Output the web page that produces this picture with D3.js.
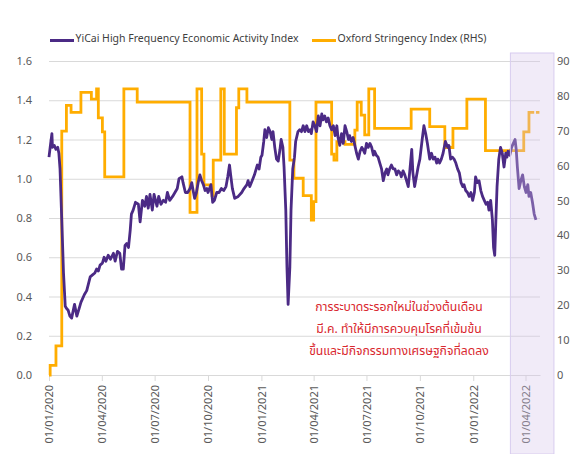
<!DOCTYPE html>
<html>
<head>
<meta charset="utf-8">
<script src="https://cdn.jsdelivr.net/npm/d3@7"></script>
<style>
	body { margin: 0; background: #fff; }
	svg { display: block; font-family: "Noto Sans", "Open Sans", sans-serif; }
</style>
</head>
<body>
<script>

// YiCai high frequency activity index (LHS)
var activity = [
	["2020-01-01",1.11],["2020-01-03",1.16],["2020-01-06",1.23],["2020-01-07",1.16],["2020-01-10",1.17],["2020-01-13",1.15],
	["2020-01-16",1.16],["2020-01-18",1.13],["2020-01-20",1.05],["2020-01-23",0.79],["2020-01-26",0.52],["2020-01-29",0.35],
	["2020-01-31",0.34],["2020-02-03",0.33],["2020-02-06",0.30],["2020-02-09",0.29],["2020-02-14",0.36],["2020-02-18",0.30],
	["2020-02-22",0.34],["2020-02-25",0.37],["2020-03-02",0.41],["2020-03-06",0.43],["2020-03-12",0.50],["2020-03-16",0.51],
	["2020-03-20",0.52],["2020-03-23",0.54],["2020-03-26",0.53],["2020-03-29",0.56],["2020-04-02",0.57],["2020-04-05",0.60],
	["2020-04-08",0.58],["2020-04-12",0.61],["2020-04-16",0.59],["2020-04-21",0.62],["2020-04-24",0.58],["2020-04-28",0.63],
	["2020-05-02",0.62],["2020-05-05",0.54],["2020-05-08",0.54],["2020-05-11",0.66],["2020-05-14",0.67],["2020-05-17",0.65],
	["2020-05-20",0.74],["2020-05-22",0.82],["2020-05-25",0.84],["2020-05-29",0.88],["2020-06-03",0.87],["2020-06-06",0.78],
	["2020-06-10",0.89],["2020-06-14",0.86],["2020-06-17",0.91],["2020-06-20",0.85],["2020-06-23",0.92],["2020-06-27",0.84],
	["2020-06-30",0.92],["2020-07-05",0.86],["2020-07-08",0.91],["2020-07-12",0.87],["2020-07-16",0.89],["2020-07-20",0.88],
	["2020-07-23",0.93],["2020-07-27",0.89],["2020-08-01",0.91],["2020-08-05",0.93],["2020-08-09",0.95],["2020-08-12",1.00],
	["2020-08-17",1.01],["2020-08-19",0.98],["2020-08-23",0.93],["2020-08-27",0.93],["2020-08-31",0.95],["2020-09-03",0.98],
	["2020-09-06",0.93],["2020-09-08",0.90],["2020-09-11",0.93],["2020-09-14",0.98],["2020-09-17",1.02],["2020-09-20",0.99],
	["2020-09-23",0.97],["2020-09-26",0.94],["2020-09-29",0.95],["2020-10-01",0.93],["2020-10-06",0.97],["2020-10-09",0.88],
	["2020-10-12",0.89],["2020-10-16",0.93],["2020-10-20",0.93],["2020-10-24",0.95],["2020-10-28",0.94],["2020-11-01",0.96],
	["2020-11-04",1.01],["2020-11-07",1.07],["2020-11-09",1.02],["2020-11-12",0.95],["2020-11-16",0.90],["2020-11-22",0.91],
	["2020-11-28",0.93],["2020-12-02",0.95],["2020-12-07",0.97],["2020-12-09",0.99],["2020-12-12",0.96],["2020-12-16",0.99],
	["2020-12-20",1.02],["2020-12-23",1.05],["2020-12-25",1.07],["2020-12-28",1.05],["2020-12-31",1.11],["2021-01-02",1.12],
	["2021-01-05",1.19],["2021-01-07",1.25],["2021-01-10",1.21],["2021-01-13",1.26],["2021-01-16",1.24],["2021-01-19",1.20],
	["2021-01-21",1.24],["2021-01-24",1.16],["2021-01-27",1.10],["2021-01-30",1.09],["2021-02-02",1.15],["2021-02-04",1.20],
	["2021-02-07",1.16],["2021-02-09",1.06],["2021-02-12",0.84],["2021-02-14",0.55],["2021-02-16",0.36],["2021-02-19",0.55],
	["2021-02-21",0.84],["2021-02-24",1.05],["2021-02-27",1.11],["2021-03-01",1.19],["2021-03-05",1.24],["2021-03-08",1.25],
	["2021-03-11",1.24],["2021-03-14",1.27],["2021-03-17",1.24],["2021-03-20",1.27],["2021-03-23",1.24],["2021-03-26",1.25],
	["2021-03-28",1.23],["2021-03-31",1.29],["2021-04-03",1.27],["2021-04-06",1.24],["2021-04-09",1.32],["2021-04-12",1.27],
	["2021-04-15",1.33],["2021-04-17",1.30],["2021-04-20",1.32],["2021-04-23",1.29],["2021-04-26",1.31],["2021-04-29",1.27],
	["2021-05-02",1.25],["2021-05-05",1.27],["2021-05-08",1.22],["2021-05-11",1.27],["2021-05-13",1.21],["2021-05-16",1.17],
	["2021-05-19",1.23],["2021-05-22",1.18],["2021-05-25",1.27],["2021-05-28",1.24],["2021-05-31",1.20],["2021-06-02",1.22],
	["2021-06-05",1.19],["2021-06-08",1.21],["2021-06-11",1.17],["2021-06-14",1.13],["2021-06-17",1.10],["2021-06-20",1.14],
	["2021-06-23",1.16],["2021-06-25",1.15],["2021-06-28",1.13],["2021-07-01",1.18],["2021-07-04",1.16],["2021-07-07",1.18],
	["2021-07-10",1.16],["2021-07-13",1.12],["2021-07-15",1.14],["2021-07-18",1.12],["2021-07-21",1.11],["2021-07-24",1.08],
	["2021-07-27",1.05],["2021-07-30",0.99],["2021-08-02",1.03],["2021-08-05",1.05],["2021-08-07",1.02],["2021-08-10",1.05],
	["2021-08-13",1.07],["2021-08-16",1.05],["2021-08-19",1.05],["2021-08-22",1.02],["2021-08-25",1.04],["2021-08-28",1.03],
	["2021-08-30",1.01],["2021-09-02",1.04],["2021-09-05",1.02],["2021-09-08",0.99],["2021-09-11",0.96],["2021-09-14",1.05],
	["2021-09-17",1.15],["2021-09-19",1.03],["2021-09-22",0.96],["2021-09-25",1.01],["2021-09-28",1.06],["2021-10-01",1.10],
	["2021-10-05",1.20],["2021-10-08",1.27],["2021-10-11",1.23],["2021-10-14",1.18],["2021-10-18",1.10],["2021-10-21",1.13],
	["2021-10-24",1.10],["2021-10-27",1.11],["2021-10-30",1.08],["2021-11-01",1.10],["2021-11-04",1.08],["2021-11-07",1.10],
	["2021-11-10",1.13],["2021-11-14",1.19],["2021-11-18",1.16],["2021-11-20",1.17],["2021-11-23",1.10],["2021-11-26",1.11],
	["2021-11-29",1.10],["2021-12-02",1.08],["2021-12-05",1.05],["2021-12-08",1.03],["2021-12-11",0.98],["2021-12-14",0.96],
	["2021-12-16",0.97],["2021-12-19",0.94],["2021-12-22",0.93],["2021-12-25",0.91],["2021-12-28",0.93],["2021-12-31",0.89],
	["2022-01-03",0.93],["2022-01-05",1.01],["2022-01-08",0.98],["2022-01-11",0.99],["2022-01-14",0.94],["2022-01-17",0.91],
	["2022-01-20",0.89],["2022-01-23",0.87],["2022-01-26",0.88],["2022-01-28",0.84],["2022-01-31",0.89],["2022-02-03",0.79],
	["2022-02-05",0.65],["2022-02-07",0.61],["2022-02-09",0.79],["2022-02-11",0.96],["2022-02-14",1.10],["2022-02-17",1.16],
	["2022-02-20",1.13],["2022-02-23",1.06],["2022-02-26",1.13],["2022-02-28",1.11],["2022-03-02",1.14],["2022-03-05",1.12],
	["2022-03-08",1.16],["2022-03-11",1.18],["2022-03-14",1.20],["2022-03-16",1.15],["2022-03-18",1.06],["2022-03-21",0.95],
	["2022-03-24",0.99],["2022-03-27",1.02],["2022-03-30",0.96],["2022-04-02",0.93],["2022-04-05",0.97],["2022-04-07",0.91],
	["2022-04-10",0.93],["2022-04-13",0.88],["2022-04-16",0.82],["2022-04-19",0.79]
];

// Oxford stringency index (RHS), step changes only
var stringency = [
	["2020-01-01",0],["2020-01-03",2.78],["2020-01-13",8.33],["2020-01-23",69.9],["2020-01-31",77.3],["2020-02-08",75.3],
	["2020-02-25",81.0],["2020-03-14",79.1],["2020-03-23",82.0],["2020-03-26",73.7],["2020-04-02",69.7],["2020-04-06",56.8],
	["2020-05-09",82.0],["2020-06-01",78.2],["2020-08-31",46.6],["2020-09-12",82.0],["2020-09-20",63.3],["2020-09-24",54.5],
	["2020-10-08",51.4],["2020-10-10",61.6],["2020-10-23",82.0],["2020-10-29",63.3],["2020-11-19",76.6],["2020-11-23",82.0],
	["2020-12-07",78.2],["2021-02-19",61.6],["2021-02-26",56.4],["2021-03-14",51.4],["2021-03-28",44.4],["2021-04-01",49.7],
	["2021-04-05",78.2],["2021-05-02",63.3],["2021-05-06",61.6],["2021-05-11",66.9],["2021-05-25",66.1],["2021-06-11",70.2],
	["2021-06-15",78.2],["2021-06-22",74.5],["2021-06-28",68.8],["2021-07-05",82.0],["2021-07-15",70.7],["2021-09-16",76.2],
	["2021-10-18",71.2],["2021-11-13",65.2],["2021-11-27",70.7],["2021-12-21",79.1],["2022-01-22",64.3],["2022-03-29",69.7],
	["2022-04-07",75.3],["2022-04-16",75.3],["2022-04-18",null],["2022-04-19",75.3],["2022-04-25",75.3]
];

var xTicks = ["2020-01-01","2020-04-01","2020-07-01","2020-10-01","2021-01-01","2021-04-01","2021-07-01","2021-10-01","2022-01-01","2022-04-01"];
var leftTicks = [0, 0.2, 0.4, 0.6, 0.8, 1.0, 1.2, 1.4, 1.6];
var rightTicks = [0, 10, 20, 30, 40, 50, 60, 70, 80, 90];
var xDomain = ["2020-01-01", "2022-04-26"];
var shadeDates = ["2022-03-06", "2022-05-20"];

var seriesNames = ["YiCai High Frequency Economic Activity Index", "Oxford Stringency Index (RHS)"];
var noteLines = [
	"การระบาดระรอกใหม่ในช่วงต้นเดือน",
	"มี.ค. ทำให้มีการควบคุมโรคที่เข้มข้น",
	"ขึ้นและมีกิจกรรมทางเศรษฐกิจที่ลดลง"
];


var CHART = (function(CHART)
{
	var W = 575, H = 454;
	var plot = {left: 49, right: 540, top: 61, bottom: 375};
	var purple = "#4b2a85";
	var orange = "#ffad00";
	var grey = "#595959";
	var parse = d3.timeParse("%Y-%m-%d");

	CHART.init = function()
	{
		var svg = d3.select("body").append("svg")
		.attr("width", W)
		.attr("height", H);

		var x = d3.scaleTime()
		.domain(xDomain.map(parse))
		.range([plot.left, plot.right]);

		var yL = d3.scaleLinear().domain([0, 1.6]).range([plot.bottom, plot.top]);
		var yR = d3.scaleLinear().domain([0, 90]).range([plot.bottom, plot.top]);

		// grid + left labels
		var leftAxis = svg.append("g")
		.attr("transform", "translate(" + plot.left + ",0)")
		.call(d3.axisLeft(yL)
			.tickValues(leftTicks)
			.tickSize(-(plot.right - plot.left))
			.tickPadding(17)
			.tickFormat(d3.format(".1f")));
		leftAxis.select(".domain").remove();
		leftAxis.selectAll("line").attr("stroke", "#d9d9d9");
		leftAxis.selectAll("text").attr("fill", grey).style("font-size", "11px").style("font-family", "Noto Sans");

		var rightAxis = svg.append("g")
		.attr("transform", "translate(556,0)")
		.call(d3.axisRight(yR).tickValues(rightTicks).tickSize(0).tickPadding(1));
		rightAxis.select(".domain").remove();
		rightAxis.selectAll("text").attr("fill", grey).style("font-size", "11px").style("font-family", "Noto Sans");

		var xAxis = svg.append("g")
		.attr("transform", "translate(0," + plot.bottom + ")")
		.call(d3.axisBottom(x)
			.tickValues(xTicks.map(parse))
			.tickSize(6)
			.tickSizeOuter(0)
			.tickFormat(d3.timeFormat("%d/%m/%Y")));
		xAxis.select(".domain").attr("stroke", "#d9d9d9");
		xAxis.selectAll("line").attr("stroke", "#d9d9d9");
		xAxis.selectAll("text")
		.attr("fill", grey)
		.style("font-size", "11px")
		.style("font-family", "Noto Sans")
		.attr("text-anchor", "end")
		.attr("transform", "rotate(-90)")
		.attr("x", -10)
		.attr("y", 0)
		.attr("dy", "0.35em");

		var actData = activity.map(function(d) { return {date: parse(d[0]), v: d[1]}; });
		var strData = stringency.map(function(d) { return {date: parse(d[0]), v: d[1]}; });

		var strLine = d3.line()
		.defined(function(d) { return d.v != null; })
		.x(function(d) { return x(d.date); })
		.y(function(d) { return yR(d.v); })
		.curve(d3.curveStepAfter);

		var actLine = d3.line()
		.x(function(d) { return x(d.date); })
		.y(function(d) { return yL(d.v); });

		svg.append("path")
		.datum(strData)
		.attr("fill", "none")
		.attr("stroke", orange)
		.attr("stroke-width", 2.8)
		.attr("stroke-linejoin", "miter")
		.attr("d", strLine);

		svg.append("path")
		.datum(actData)
		.attr("fill", "none")
		.attr("stroke", purple)
		.attr("stroke-width", 2.8)
		.attr("stroke-linejoin", "round")
		.attr("d", actLine);

		// shaded window at the end, drawn over the lines
		svg.append("rect")
		.attr("x", x(parse(shadeDates[0])))
		.attr("y", plot.top - 8)
		.attr("width", x(parse(shadeDates[1])) - x(parse(shadeDates[0])))
		.attr("height", H - plot.top + 8)
		.attr("fill", "rgb(215,198,235)")
		.attr("fill-opacity", 0.35)
		.attr("stroke", "#d8ccef")
		.attr("stroke-width", 1);

		// legend
		var legend = svg.append("g").attr("class", "legend");
		var legendPos = [50, 312];
		var legendCol = [purple, orange];
		seriesNames.forEach(function(name, i)
		{
			var g = legend.append("g").attr("transform", "translate(" + legendPos[i] + ",0)");
			g.append("line")
			.attr("x1", 0).attr("x2", 24)
			.attr("y1", 40.5).attr("y2", 40.5)
			.attr("stroke", legendCol[i])
			.attr("stroke-width", 3);
			g.append("text")
			.attr("x", 25.5)
			.attr("y", 42)
			.attr("fill", "#404040")
			.style("font-size", "10.5px")
			.text(name);
		});

		// annotation
		svg.append("g")
		.selectAll("text")
		.data(noteLines)
		.join("text")
		.attr("x", 399)
		.attr("y", function(d, i) { return 311 + i * 22; })
		.attr("text-anchor", "middle")
		.attr("fill", "#d9272e")
		.style("font-size", "12.2px")
		.style("font-family", "'Noto Sans Thai', Tahoma, 'Leelawadee UI', sans-serif")
		.text(function(d) { return d; });
	}

	return CHART;

}(typeof CHART !== "undefined" ? CHART : {}));

CHART.init();
</script>
</body>
</html>
